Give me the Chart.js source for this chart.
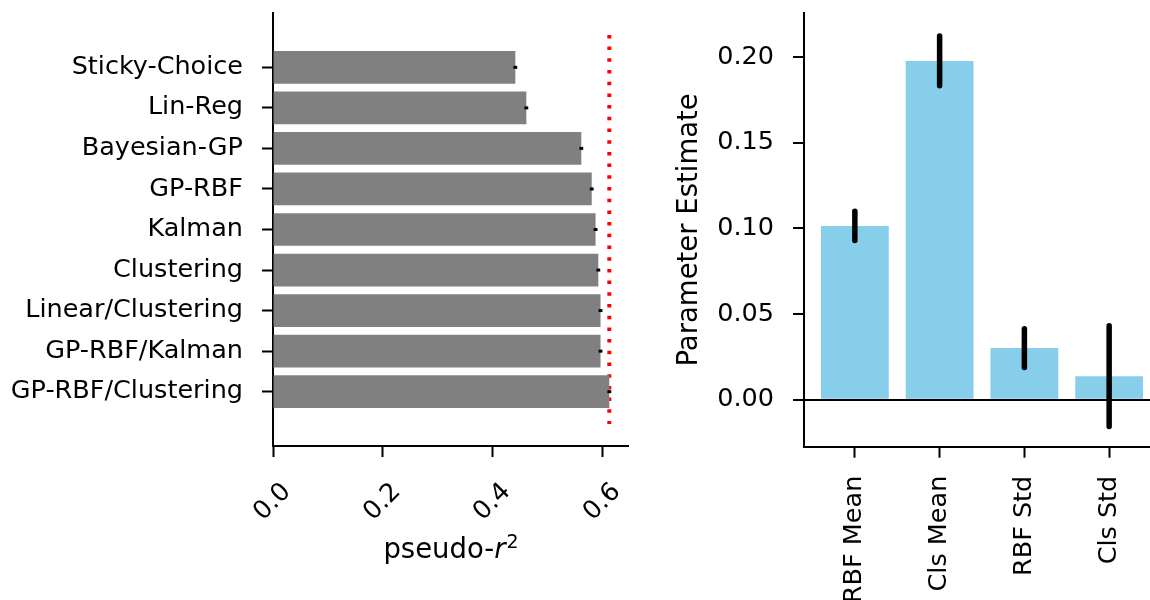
<!DOCTYPE html>
<html>
<head>
<meta charset="utf-8">
<script src="https://cdn.jsdelivr.net/npm/chart.js@4.4.0/dist/chart.umd.min.js"></script>
<style>
  body { margin: 0; background: #fff; overflow: hidden; }
  #wrap { position: relative; width: 1150px; height: 600px; overflow: hidden; background: #fff; }
  canvas { position: absolute; top: 0; }
  #left { left: 0; }
  #right { left: 640px; }
</style>
</head>
<body>
<div id="wrap">
  <canvas id="left" width="650" height="600"></canvas>
  <canvas id="right" width="540" height="660"></canvas>
</div>
<script>
// left panel: model fits
const models = ['Sticky-Choice', 'Lin-Reg', 'Bayesian-GP', 'GP-RBF', 'Kalman', 'Clustering',
                'Linear/Clustering', 'GP-RBF/Kalman', 'GP-RBF/Clustering'];
const pseudoR2 = [0.441, 0.461, 0.561, 0.580, 0.587, 0.592, 0.596, 0.596, 0.612];
const pseudoR2Err = [0.0035, 0.0035, 0.0035, 0.0035, 0.0035, 0.0035, 0.0035, 0.0035, 0.0035];
const ceiling = 0.612;
const r2Ticks = [0, 0.2, 0.4, 0.6];

// right panel: parameter estimates
const params = ['RBF Mean', 'Cls Mean', 'RBF Std', 'Cls Std'];
const estimates = [0.1015, 0.1978, 0.0302, 0.0138];
const estimateErr = [0.0085, 0.0145, 0.0113, 0.0294];
const estimateTicks = [0, 0.05, 0.1, 0.15, 0.2];

Chart.defaults.font.family = '"DejaVu Sans", sans-serif';
Chart.defaults.color = '#000';
Chart.defaults.animation = false;

// draws the error bars on top of the bars, through the value scale
const errorBars = {
    id: 'errorBars',
    afterDatasetsDraw(chart, args, opts) {
        if (!opts.errors) return;
        const ctx = chart.ctx;
        const meta = chart.getDatasetMeta(0);
        const horizontal = chart.options.indexAxis === 'y';
        const vScale = horizontal ? chart.scales.x : chart.scales.y;
        ctx.save();
        ctx.strokeStyle = '#000';
        ctx.lineWidth = opts.width;
        ctx.lineCap = opts.cap;
        meta.data.forEach((bar, i) => {
            const a = vScale.getPixelForValue(opts.values[i] - opts.errors[i]);
            const b = vScale.getPixelForValue(opts.values[i] + opts.errors[i]);
            ctx.beginPath();
            if (horizontal) {
                ctx.moveTo(a, bar.y);
                ctx.lineTo(b, bar.y);
            } else {
                ctx.moveTo(bar.x, a);
                ctx.lineTo(bar.x, b);
            }
            ctx.stroke();
        });
        ctx.restore();
    }
};

// x label "pseudo-r²" with italic r
const r2Title = {
    id: 'r2Title',
    afterDraw(chart) {
        const ctx = chart.ctx;
        const xs = chart.scales.x;
        const cx = (xs.left + xs.right) / 2;
        const y = xs.top + 112;
        const fam = '"DejaVu Sans", sans-serif';
        ctx.save();
        ctx.fillStyle = '#000';
        ctx.textBaseline = 'alphabetic';
        ctx.textAlign = 'left';
        ctx.font = '27.5px ' + fam;
        const w1 = ctx.measureText('pseudo-').width;
        ctx.font = 'italic 27.5px ' + fam;
        const w2 = ctx.measureText('r').width;
        ctx.font = '19px ' + fam;
        const w3 = ctx.measureText('2').width;
        let x = cx - (w1 + w2 + w3) / 2;
        ctx.font = '27.5px ' + fam;
        ctx.fillText('pseudo-', x, y);
        x += w1;
        ctx.font = 'italic 27.5px ' + fam;
        ctx.fillText('r', x, y);
        x += w2 + 1;
        ctx.font = '19px ' + fam;
        ctx.fillText('2', x, y - 10);
        ctx.restore();
    }
};

// fixed axis box sizes, no extra padding from the label overflow
function fixBox(size) {
    return s => {
        if (s.isHorizontal()) s.height = size; else s.width = size;
        s.paddingTop = 0; s.paddingBottom = 0; s.paddingLeft = 0; s.paddingRight = 0;
    };
}

const axisLine = { color: '#000', width: 2 };
const tickMarks = { drawOnChartArea: false, offset: false, tickColor: '#000', tickLength: 11, tickWidth: 2 };

new Chart(document.getElementById('left'), {
    type: 'bar',
    data: {
        datasets: [{
            type: 'bar',
            data: models.map((m, i) => ({ x: pseudoR2[i], y: i })),
            backgroundColor: '#808080',
            barPercentage: 0.806,
            categoryPercentage: 1
        }, {
            type: 'line',
            data: [{ x: ceiling, y: -0.8 }, { x: ceiling, y: 8.8 }],
            borderColor: '#ff0000',
            borderWidth: 4,
            borderDash: [3.5, 8.2],
            pointRadius: 0,
            fill: false
        }]
    },
    options: {
        indexAxis: 'y',
        responsive: false,
        layout: { padding: { top: 13, right: 22, left: 0, bottom: 0 } },
        plugins: {
            legend: { display: false },
            tooltip: { enabled: false },
            errorBars: { values: pseudoR2, errors: pseudoR2Err, width: 3, cap: 'butt' }
        },
        scales: {
            x: {
                type: 'linear', min: 0, max: 0.646, offset: false,
                afterBuildTicks: s => { s.ticks = r2Ticks.map(v => ({ value: v })); },
                afterFit: fixBox(154),
                ticks: { font: { size: 25.5 }, minRotation: 45, maxRotation: 45, padding: 20,
                         labelOffset: 14, callback: v => v.toFixed(1) },
                grid: tickMarks,
                border: axisLine
            },
            y: {
                type: 'linear', min: -1.34, max: 9.34, reverse: true, offset: false,
                afterBuildTicks: s => { s.ticks = models.map((m, i) => ({ value: i })); },
                afterFit: fixBox(273),
                ticks: { font: { size: 25.5 }, padding: 19, callback: v => models[v] },
                grid: tickMarks,
                border: axisLine
            }
        }
    },
    plugins: [errorBars, r2Title]
});

new Chart(document.getElementById('right'), {
    type: 'bar',
    data: {
        datasets: [{
            data: params.map((p, i) => ({ x: i, y: estimates[i] })),
            backgroundColor: '#87ceeb',
            barPercentage: 0.8,
            categoryPercentage: 1
        }]
    },
    options: {
        responsive: false,
        layout: { padding: { top: 13, right: 20, left: 0, bottom: 0 } },
        plugins: {
            legend: { display: false },
            tooltip: { enabled: false },
            errorBars: { values: estimates, errors: estimateErr, width: 5.5, cap: 'round' }
        },
        scales: {
            x: {
                type: 'linear', min: -0.6, max: 3.6, offset: false,
                afterBuildTicks: s => { s.ticks = params.map((p, i) => ({ value: i })); },
                afterFit: fixBox(213.3),
                ticks: { font: { size: 25.5 }, minRotation: 90, maxRotation: 90, padding: 18,
                         callback: v => params[v] },
                grid: tickMarks,
                border: axisLine
            },
            y: {
                min: -0.0274, max: 0.2258, z: 1, offset: false,
                afterBuildTicks: s => { s.ticks = estimateTicks.map(v => ({ value: v })); },
                afterFit: fixBox(164),
                ticks: { font: { size: 25.5 }, padding: 19, callback: v => v.toFixed(2) },
                grid: {
                    color: c => (c.tick && c.tick.value === 0) ? '#000' : 'rgba(0,0,0,0)',
                    lineWidth: 2, offset: false, tickColor: '#000', tickLength: 11, tickWidth: 2
                },
                border: axisLine,
                title: { display: true, text: 'Parameter Estimate', font: { size: 27.5 },
                         padding: { top: 33 } }
            }
        }
    },
    plugins: [errorBars]
});
</script>
</body>
</html>
